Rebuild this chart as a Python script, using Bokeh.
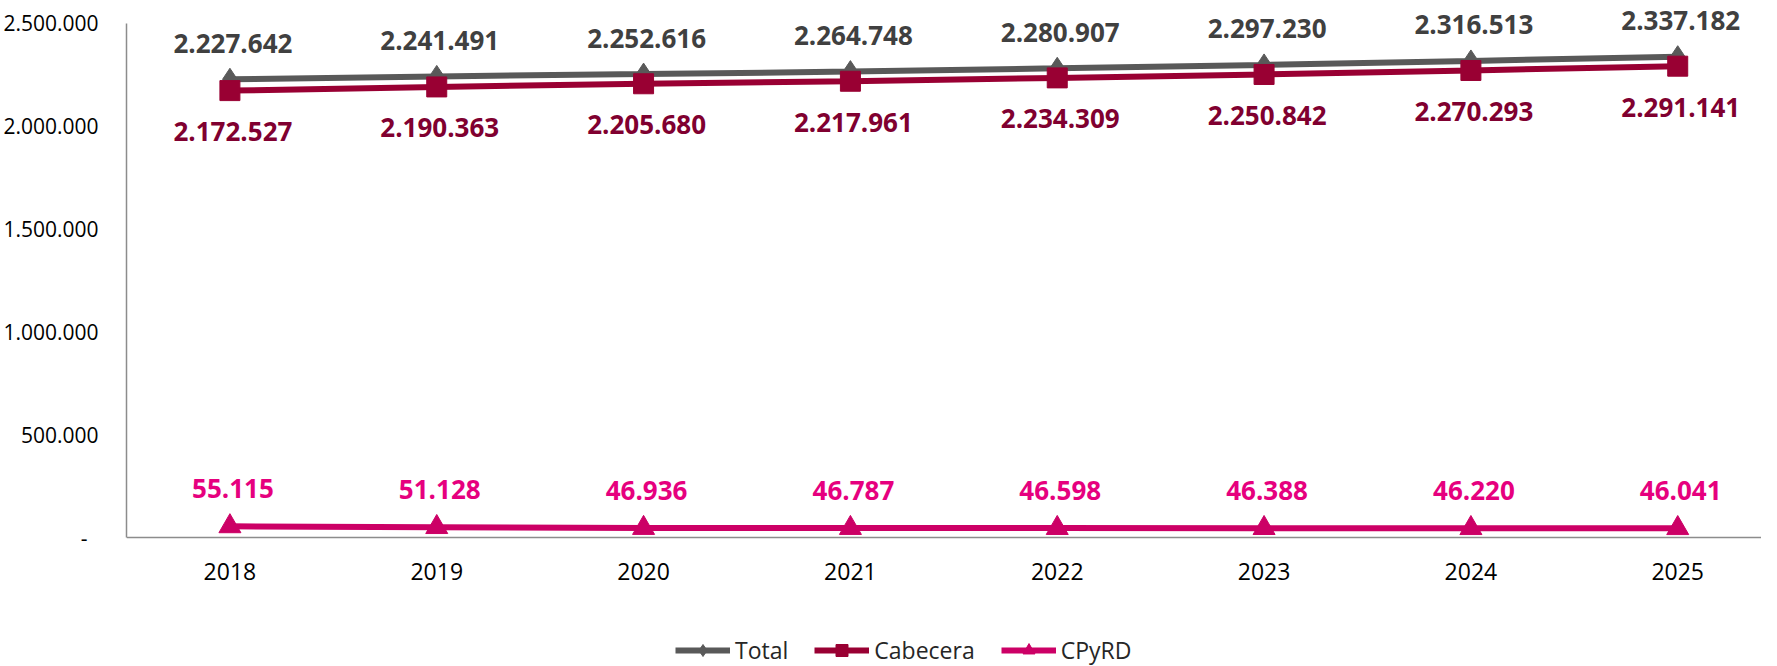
from bokeh.plotting import figure
from bokeh.models import Range1d, FixedTicker, Legend, LegendItem, ColumnDataSource
from bokeh.core.properties import value
from bokeh.embed import file_html
from bokeh.resources import INLINE

years = [2018, 2019, 2020, 2021, 2022, 2023, 2024, 2025]
total = [2227642, 2241491, 2252616, 2264748, 2280907, 2297230, 2316513, 2337182]
cabecera = [2172527, 2190363, 2205680, 2217961, 2234309, 2250842, 2270293, 2291141]
cpyrd = [55115, 51128, 46936, 46787, 46598, 46388, 46220, 46041]
y_ticks = [0, 500000, 1000000, 1500000, 2000000, 2500000]
y_tick_labels = ["-\u00a0\u00a0", "500.000", "1.000.000", "1.500.000", "2.000.000", "2.500.000"]
series_names = ["Total", "Cabecera", "CPyRD"]

FONT = "Open Sans"
C_TOTAL, C_TOTAL_LBL = "#595959", "#404040"
C_CAB, C_CAB_LBL = "#990033", "#800030"
C_CP, C_CP_LBL = "#CC0066", "#E6007E"


def fmt(v):
    return f"{v:,}".replace(",", ".")


p = figure(width=1761, height=666, output_backend="svg", toolbar_location=None,
           x_range=Range1d(2017.5, 2025.405), y_range=Range1d(-625800, 2610300),
           min_border_left=121, min_border_right=0, min_border_top=0,
           min_border_bottom=0)
p.outline_line_color = None
p.xgrid.grid_line_color = None
p.ygrid.grid_line_color = None
p.background_fill_color = "white"
p.border_fill_color = "white"

# axes
p.yaxis.ticker = FixedTicker(ticks=y_ticks)
p.yaxis.major_label_overrides = {t: l for t, l in zip(y_ticks, y_tick_labels)}
p.yaxis.bounds = (0, 2500000)
p.yaxis.axis_line_color = "#8c8c8c"
p.yaxis.axis_line_width = 1.5
p.yaxis.major_tick_line_color = None
p.yaxis.minor_tick_line_color = None
p.yaxis.major_label_standoff = 22
p.yaxis.major_label_text_font = FONT
p.yaxis.major_label_text_font_size = "21px"
p.yaxis.major_label_text_color = "#000000"

p.xaxis.fixed_location = 0
p.xaxis.ticker = FixedTicker(ticks=years)
p.xaxis.major_label_overrides = {y: str(y) for y in years}
p.xaxis.axis_line_color = "#8c8c8c"
p.xaxis.axis_line_width = 1.5
p.xaxis.major_tick_line_color = None
p.xaxis.minor_tick_line_color = None
p.xaxis.major_label_standoff = 19
p.xaxis.major_label_text_font = FONT
p.xaxis.major_label_text_font_size = "23px"
p.xaxis.major_label_text_color = "#000000"

src = ColumnDataSource(dict(x=years, total=total, cab=cabecera, cp=cpyrd,
                            lt=[fmt(v) for v in total], lc=[fmt(v) for v in cabecera],
                            lp=[fmt(v) for v in cpyrd]))

l1 = p.line("x", "total", source=src, line_color=C_TOTAL, line_width=6)
m1 = p.scatter("x", "total", source=src, marker="diamond", size=22,
               fill_color=C_TOTAL, line_color=C_TOTAL)
l2 = p.line("x", "cab", source=src, line_color=C_CAB, line_width=6)
m2 = p.scatter("x", "cab", source=src, marker="square", size=20,
               fill_color=C_CAB, line_color=C_CAB)
l3 = p.line("x", "cp", source=src, line_color=C_CP, line_width=6)
m3 = p.scatter("x", "cp", source=src, marker="triangle", size=22,
               fill_color=C_CP, line_color=C_CP)

common = dict(source=src, text_font=value(FONT), text_font_style="bold",
              text_font_size="26px", text_align="center", text_baseline="middle",
              x_offset=3)
p.text("x", "total", text="lt", text_color=C_TOTAL_LBL, y_offset=-36, **common)
p.text("x", "cab", text="lc", text_color=C_CAB_LBL, y_offset=41, **common)
p.text("x", "cp", text="lp", text_color=C_CP_LBL, y_offset=-38, **common)

legend = Legend(items=[LegendItem(label=series_names[0], renderers=[l1, m1]),
                       LegendItem(label=series_names[1], renderers=[l2, m2]),
                       LegendItem(label=series_names[2], renderers=[l3, m3])],
                orientation="horizontal", location=(549, 0),
                glyph_width=55, glyph_height=30, label_standoff=5, spacing=26,
                label_text_font=FONT, label_text_font_size="23px",
                label_text_color="#262626", border_line_color=None,
                background_fill_alpha=0, margin=0, padding=0)
p.add_layout(legend, "center")

open("out.html", "w").write(file_html(p, INLINE))
